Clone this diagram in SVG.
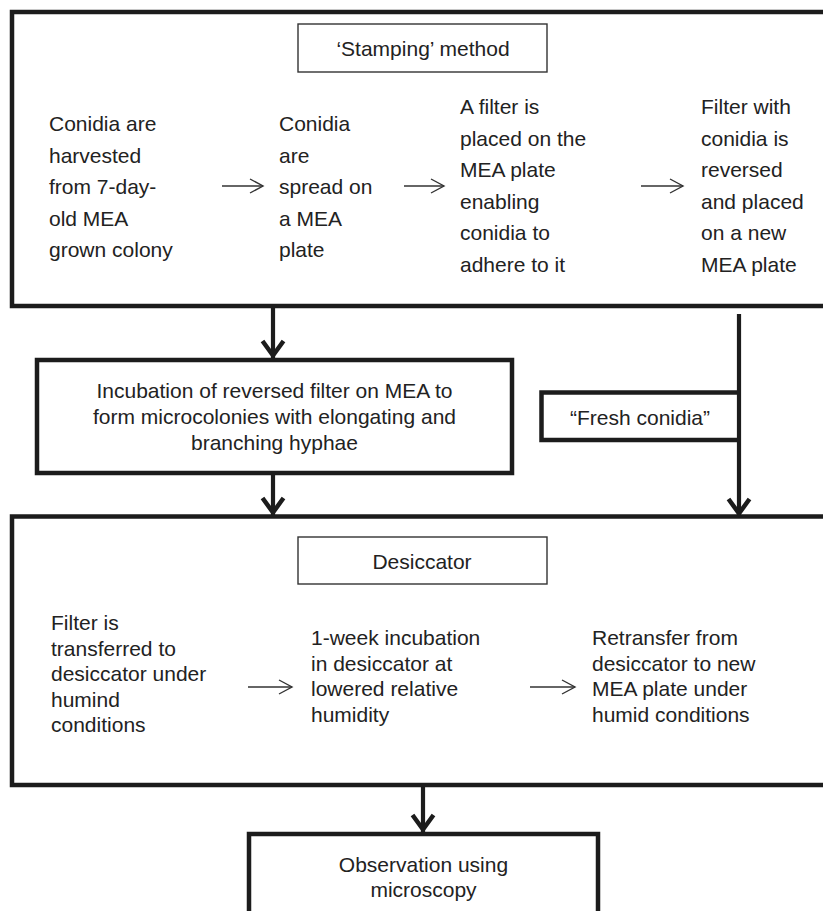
<svg xmlns="http://www.w3.org/2000/svg" width="823" height="911" viewBox="0 0 823 911">
<style>
  .big { fill: none; stroke: #1c1c1c; stroke-width: 4.5; }
  .thin { fill: #fff; stroke: #333; stroke-width: 1.4; }
  .t { font-family: "Liberation Sans", Arial, sans-serif; font-size: 21px; fill: #222; }
  .c { text-anchor: middle; }
  .conn { fill: none; stroke: #1c1c1c; stroke-width: 4.2; }
  .sm { fill: none; stroke: #333; stroke-width: 1.4; }
</style>
<defs>
  <marker id="bigHead" viewBox="-24 -14 28 28" markerWidth="28" markerHeight="28" markerUnits="userSpaceOnUse" refX="0" refY="0" orient="auto">
    <path d="M-17,-10.5 L-2.5,0 L-17,10.5" fill="none" stroke="#1c1c1c" stroke-width="4.5" stroke-linejoin="miter"/>
  </marker>
  <marker id="smHead" viewBox="-16 -9 18 18" markerWidth="18" markerHeight="18" markerUnits="userSpaceOnUse" refX="0" refY="0" orient="auto">
    <path d="M-13,-7 L0,0 L-13,7" fill="none" stroke="#333" stroke-width="1.4"/>
  </marker>
</defs>
<rect width="823" height="911" fill="#fff"/>

<g id="stamping-group">
  <rect class="big" x="12" y="12" width="830" height="294"/>
  <g id="stamping-title">
    <rect class="thin" x="298" y="24" width="249" height="48"/>
    <text class="t c" x="423" y="56">‘Stamping’ method</text>
  </g>
  <g id="step-harvest">
    <text class="t" x="49" y="131">Conidia are</text>
    <text class="t" x="49" y="162.6">harvested</text>
    <text class="t" x="49" y="194.2">from 7-day-</text>
    <text class="t" x="49" y="225.8">old MEA</text>
    <text class="t" x="49" y="257.4">grown colony</text>
  </g>
  <g id="step-spread">
    <text class="t" x="279" y="131">Conidia</text>
    <text class="t" x="279" y="162.6">are</text>
    <text class="t" x="279" y="194.2">spread on</text>
    <text class="t" x="279" y="225.8">a MEA</text>
    <text class="t" x="279" y="257.4">plate</text>
  </g>
  <g id="step-filter">
    <text class="t" x="460" y="114">A filter is</text>
    <text class="t" x="460" y="145.6">placed on the</text>
    <text class="t" x="460" y="177.2">MEA plate</text>
    <text class="t" x="460" y="208.8">enabling</text>
    <text class="t" x="460" y="240.4">conidia to</text>
    <text class="t" x="460" y="272">adhere to it</text>
  </g>
  <g id="step-reverse">
    <text class="t" x="701" y="114">Filter with</text>
    <text class="t" x="701" y="145.6">conidia is</text>
    <text class="t" x="701" y="177.2">reversed</text>
    <text class="t" x="701" y="208.8">and placed</text>
    <text class="t" x="701" y="240.4">on a new</text>
    <text class="t" x="701" y="272">MEA plate</text>
  </g>
</g>

<g id="incubation">
  <rect class="big" x="37" y="360" width="475" height="113"/>
  <text class="t c" x="274.5" y="398">Incubation of reversed filter on MEA to</text>
  <text class="t c" x="274.5" y="424">form microcolonies with elongating and</text>
  <text class="t c" x="274.5" y="450">branching hyphae</text>
</g>

<g id="fresh-conidia">
  <path class="big" d="M739,392.5 H541.5 V440 H739"/>
  <text class="t c" x="640" y="425">“Fresh conidia”</text>
</g>

<g id="desiccator-group">
  <rect class="big" x="12" y="516.5" width="830" height="268.5"/>
  <g id="desiccator-title">
    <rect class="thin" x="298" y="537" width="249" height="47"/>
    <text class="t c" x="422" y="569">Desiccator</text>
  </g>
  <g id="step-transfer">
    <text class="t" x="51" y="630">Filter is</text>
    <text class="t" x="51" y="655.5">transferred to</text>
    <text class="t" x="51" y="681">desiccator under</text>
    <text class="t" x="51" y="706.5">humind</text>
    <text class="t" x="51" y="732">conditions</text>
  </g>
  <g id="step-week">
    <text class="t" x="311" y="645">1-week incubation</text>
    <text class="t" x="311" y="670.5">in desiccator at</text>
    <text class="t" x="311" y="696">lowered relative</text>
    <text class="t" x="311" y="721.5">humidity</text>
  </g>
  <g id="step-retransfer">
    <text class="t" x="592" y="645">Retransfer from</text>
    <text class="t" x="592" y="670.5">desiccator to new</text>
    <text class="t" x="592" y="696">MEA plate under</text>
    <text class="t" x="592" y="721.5">humid conditions</text>
  </g>
</g>

<g id="observation">
  <rect class="big" x="249" y="834" width="349" height="100"/>
  <text class="t c" x="423.5" y="872">Observation using</text>
  <text class="t c" x="423.5" y="897">microscopy</text>
</g>

<g id="connectors">
  <line class="sm" x1="222" y1="186" x2="263" y2="186" marker-end="url(#smHead)"/>
  <line class="sm" x1="404" y1="186" x2="444" y2="186" marker-end="url(#smHead)"/>
  <line class="sm" x1="641" y1="186" x2="683" y2="186" marker-end="url(#smHead)"/>
  <line class="sm" x1="248" y1="687" x2="292" y2="687" marker-end="url(#smHead)"/>
  <line class="sm" x1="530" y1="687" x2="575" y2="687" marker-end="url(#smHead)"/>
  <line class="conn" x1="273" y1="308" x2="273" y2="358" marker-end="url(#bigHead)"/>
  <line class="conn" x1="273" y1="475" x2="273" y2="515" marker-end="url(#bigHead)"/>
  <line class="conn" x1="739" y1="314" x2="739" y2="516" marker-end="url(#bigHead)"/>
  <line class="conn" x1="423" y1="787" x2="423" y2="832" marker-end="url(#bigHead)"/>
</g>
</svg>
